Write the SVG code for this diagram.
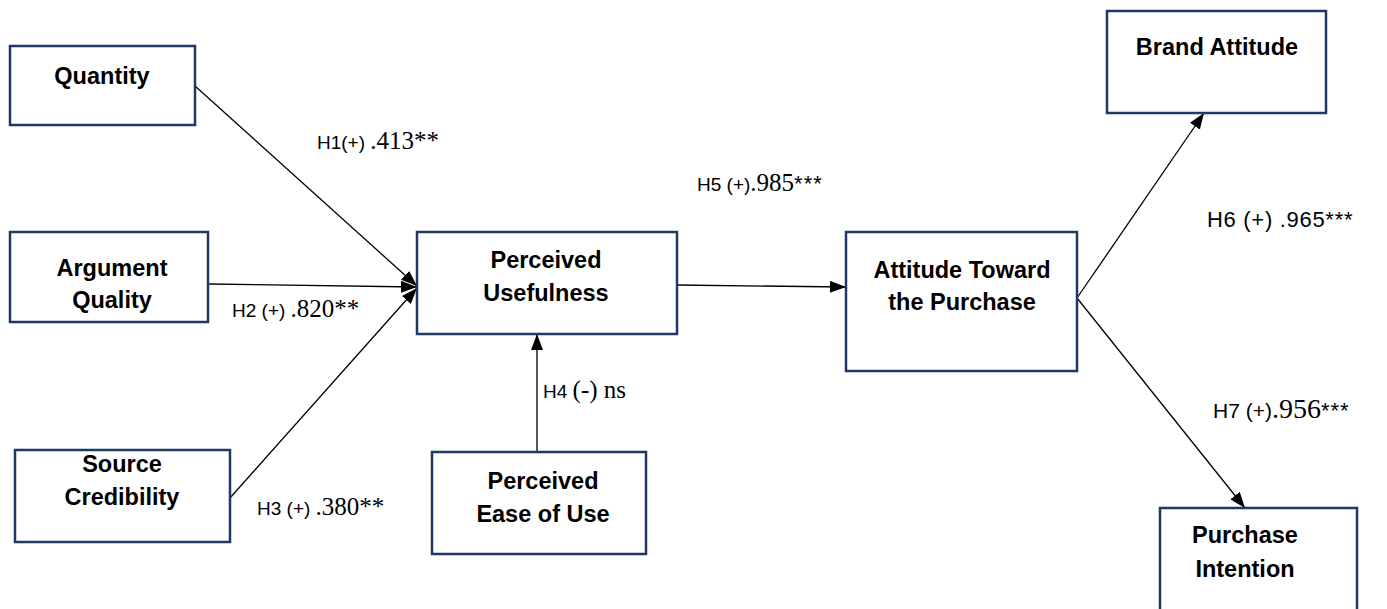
<svg xmlns="http://www.w3.org/2000/svg" width="1387" height="609" viewBox="0 0 1387 609">
  <style>
    .box { fill: #ffffff; stroke: #1f3864; stroke-width: 2.5; }
    .lbl { font-family: "Liberation Sans", Arial, sans-serif; font-weight: bold; font-size: 23.5px; fill: #000; text-anchor: middle; }
    .edge { stroke: #000; stroke-width: 1.3; fill: none; marker-end: url(#arrow); }
    .h { font-family: "Liberation Sans", Arial, sans-serif; font-size: 19px; fill: #000; }
    .num { font-family: "Liberation Serif", "Times New Roman", serif; font-size: 25px; fill: #000; }
    .star { font-family: "Liberation Sans", Arial, sans-serif; font-size: 22px; letter-spacing: 1px; fill: #000; }
  </style>
  <defs>
    <marker id="arrow" viewBox="0 0 16 12" refX="16" refY="6" markerWidth="16" markerHeight="12" markerUnits="userSpaceOnUse" orient="auto">
      <path d="M0,0 L16,6 L0,12 Z" fill="#000"/>
    </marker>
  </defs>

  <!-- connectors -->
  <g id="connectors">
    <line class="edge" x1="195" y1="86" x2="417" y2="286"/>
    <line class="edge" x1="208" y1="284" x2="417" y2="287"/>
    <line class="edge" x1="230" y1="498" x2="417" y2="288"/>
    <line class="edge" x1="677" y1="285" x2="846" y2="287"/>
    <line class="edge" x1="537" y1="452" x2="537" y2="334"/>
    <line class="edge" x1="1077" y1="298" x2="1204" y2="113"/>
    <line class="edge" x1="1077" y1="298" x2="1245" y2="508"/>
  </g>

  <!-- path labels -->
  <g id="path-labels">
    <text x="317" y="149"><tspan class="h">H1(+) </tspan><tspan class="num">.413**</tspan></text>
    <text x="232" y="317"><tspan class="h">H2 (+) </tspan><tspan class="num">.820**</tspan></text>
    <text x="257" y="515"><tspan class="h">H3 (+) </tspan><tspan class="num">.380**</tspan></text>
    <text x="543" y="398"><tspan class="h">H4 </tspan><tspan class="num">(-) ns</tspan></text>
    <text x="697" y="191"><tspan class="h">H5 (+)</tspan><tspan class="num">.985</tspan><tspan class="star">***</tspan></text>
    <text x="1207" y="227" class="h" style="font-size:22px;letter-spacing:0.7px">H6 (+) .965***</text>
    <text x="1213" y="418"><tspan class="h" style="font-size:21px">H7 (+)</tspan><tspan class="num" style="font-size:28px">.956</tspan><tspan class="star">***</tspan></text>
  </g>

  <!-- nodes -->
  <g id="quantity">
    <rect class="box" x="10" y="46" width="185" height="79"/>
    <text class="lbl" x="102" y="84">Quantity</text>
  </g>
  <g id="argument-quality">
    <rect class="box" x="10" y="232" width="198" height="90"/>
    <text class="lbl" x="112" y="276">Argument</text>
    <text class="lbl" x="112" y="308">Quality</text>
  </g>
  <g id="source-credibility">
    <rect class="box" x="15" y="450" width="215" height="92"/>
    <text class="lbl" x="122" y="472">Source</text>
    <text class="lbl" x="122" y="505">Credibility</text>
  </g>
  <g id="perceived-usefulness">
    <rect class="box" x="417" y="232" width="260" height="102"/>
    <text class="lbl" x="546" y="268">Perceived</text>
    <text class="lbl" x="546" y="301">Usefulness</text>
  </g>
  <g id="perceived-ease-of-use">
    <rect class="box" x="432" y="452" width="214" height="102"/>
    <text class="lbl" x="543" y="489">Perceived</text>
    <text class="lbl" x="543" y="522">Ease of Use</text>
  </g>
  <g id="attitude-purchase">
    <rect class="box" x="846" y="232" width="231" height="139"/>
    <text class="lbl" x="962" y="278">Attitude Toward</text>
    <text class="lbl" x="962" y="310">the Purchase</text>
  </g>
  <g id="brand-attitude">
    <rect class="box" x="1107" y="11" width="219" height="102"/>
    <text class="lbl" x="1217" y="55">Brand Attitude</text>
  </g>
  <g id="purchase-intention">
    <rect class="box" x="1160" y="508" width="197" height="120"/>
    <text class="lbl" x="1245" y="543">Purchase</text>
    <text class="lbl" x="1245" y="577">Intention</text>
  </g>
</svg>
